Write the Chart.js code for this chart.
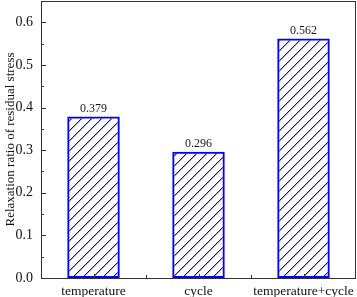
<!DOCTYPE html>
<html>
<head>
<meta charset="utf-8">
<script src="https://cdn.jsdelivr.net/npm/chart.js@4.4.1/dist/chart.umd.min.js"></script>
<style>
  html, body { margin: 0; padding: 0; background: #fff; }
  #wrap { width: 357px; height: 297px; }
</style>
</head>
<body>
<div id="wrap"><canvas id="barChart" width="357" height="297"></canvas></div>
<script>
const categories = ["temperature", "cycle", "temperature+cycle"];
const relaxation = [0.379, 0.296, 0.562];
const valueLabels = ["0.379", "0.296", "0.562"];
const yMin = 0;
const yMax = 0.65;
const yStep = 0.1;

const serif = "'Liberation Serif', 'Times New Roman', serif";
const blue = "#0000ff";

// diagonal hatch "/" built pixel by pixel
function makeHatch() {
  const c = document.createElement("canvas");
  c.width = 10;
  c.height = 10;
  const g = c.getContext("2d");
  g.fillStyle = "rgba(0,0,255,1)";
  for (let y = 0; y < 10; y++) {
    g.fillRect(9 - y, y, 1, 1);
  }
  g.fillStyle = "rgba(0,0,255,0.35)";
  for (let y = 0; y < 10; y++) {
    g.fillRect((10 - y) % 10, y, 1, 1);
  }
  return g.createPattern(c, "repeat");
}

// frame + inward ticks
const frameTicks = {
  id: "frameTicks",
  afterDraw(chart) {
    const { ctx, chartArea: a, scales } = chart;
    ctx.save();
    ctx.strokeStyle = "#333";
    ctx.lineWidth = 1;
    ctx.strokeRect(a.left + 0.5, a.top + 0.5, a.right - a.left - 1, a.bottom - a.top);
    ctx.beginPath();
    for (let v = yMin; v <= yMax + 1e-9; v += yStep / 2) {
      const y = Math.round(scales.y.getPixelForValue(v)) + 0.5;
      const major = Math.abs(v / yStep - Math.round(v / yStep)) < 1e-6;
      ctx.moveTo(a.left, y);
      ctx.lineTo(a.left + (major ? 5 : 3), y);
    }
    for (let i = 0; i < categories.length; i++) {
      let x = Math.round(scales.x.getPixelForValue(i)) + 0.5;
      ctx.moveTo(x, a.bottom);
      ctx.lineTo(x, a.bottom - 4);
      if (i < categories.length - 1) {
        x = Math.round(scales.x.getPixelForValue(i + 0.5)) + 0.5;
        ctx.moveTo(x, a.bottom);
        ctx.lineTo(x, a.bottom - 3);
      }
    }
    ctx.stroke();
    ctx.restore();
  },
};

// value text above bars
const barValues = {
  id: "barValues",
  afterDatasetsDraw(chart) {
    const { ctx } = chart;
    const meta = chart.getDatasetMeta(0);
    ctx.save();
    ctx.font = "12px " + serif;
    ctx.fillStyle = "#1a1a1a";
    ctx.textAlign = "center";
    ctx.textBaseline = "bottom";
    meta.data.forEach((bar, i) => {
      ctx.fillText(valueLabels[i], bar.x, bar.y - 2);
    });
    ctx.restore();
  },
};

const myChart = new Chart(document.getElementById("barChart").getContext("2d"), {
  type: "bar",
  data: {
    labels: categories,
    datasets: [
      {
        data: relaxation,
        backgroundColor: makeHatch(),
        borderColor: blue,
        borderWidth: 2,
        borderSkipped: false,
        barPercentage: 0.5,
        categoryPercentage: 1,
      },
    ],
  },
  plugins: [frameTicks, barValues],
  options: {
    responsive: false,
    animation: false,
    layout: { padding: { top: 1, right: 1, left: 0, bottom: 0 } },
    plugins: {
      legend: { display: false },
      tooltip: { enabled: false },
    },
    scales: {
      x: {
        grid: { display: false, drawTicks: false },
        border: { display: false },
        ticks: {
          color: "#111",
          padding: 5,
          maxRotation: 0,
          font: { family: serif, size: 13.5 },
        },
        afterFit(scale) {
          scale.height = 19;
          scale.paddingLeft = 0;
          scale.paddingRight = 0;
        },
      },
      y: {
        min: yMin,
        max: yMax,
        grid: { display: false, drawTicks: false },
        border: { display: false },
        ticks: {
          stepSize: yStep,
          includeBounds: false,
          padding: 8,
          color: "#111",
          font: { family: serif, size: 14 },
          callback: (v) => v.toFixed(1),
        },
        title: {
          display: true,
          text: "Relaxation ratio of residual stress",
          color: "#111",
          padding: { top: 3, bottom: 0 },
          font: { family: serif, size: 13 },
        },
        afterFit(scale) {
          scale.width = 41;
          scale.paddingTop = 0;
          scale.paddingBottom = 0;
        },
      },
    },
  },
});
</script>
</body>
</html>
